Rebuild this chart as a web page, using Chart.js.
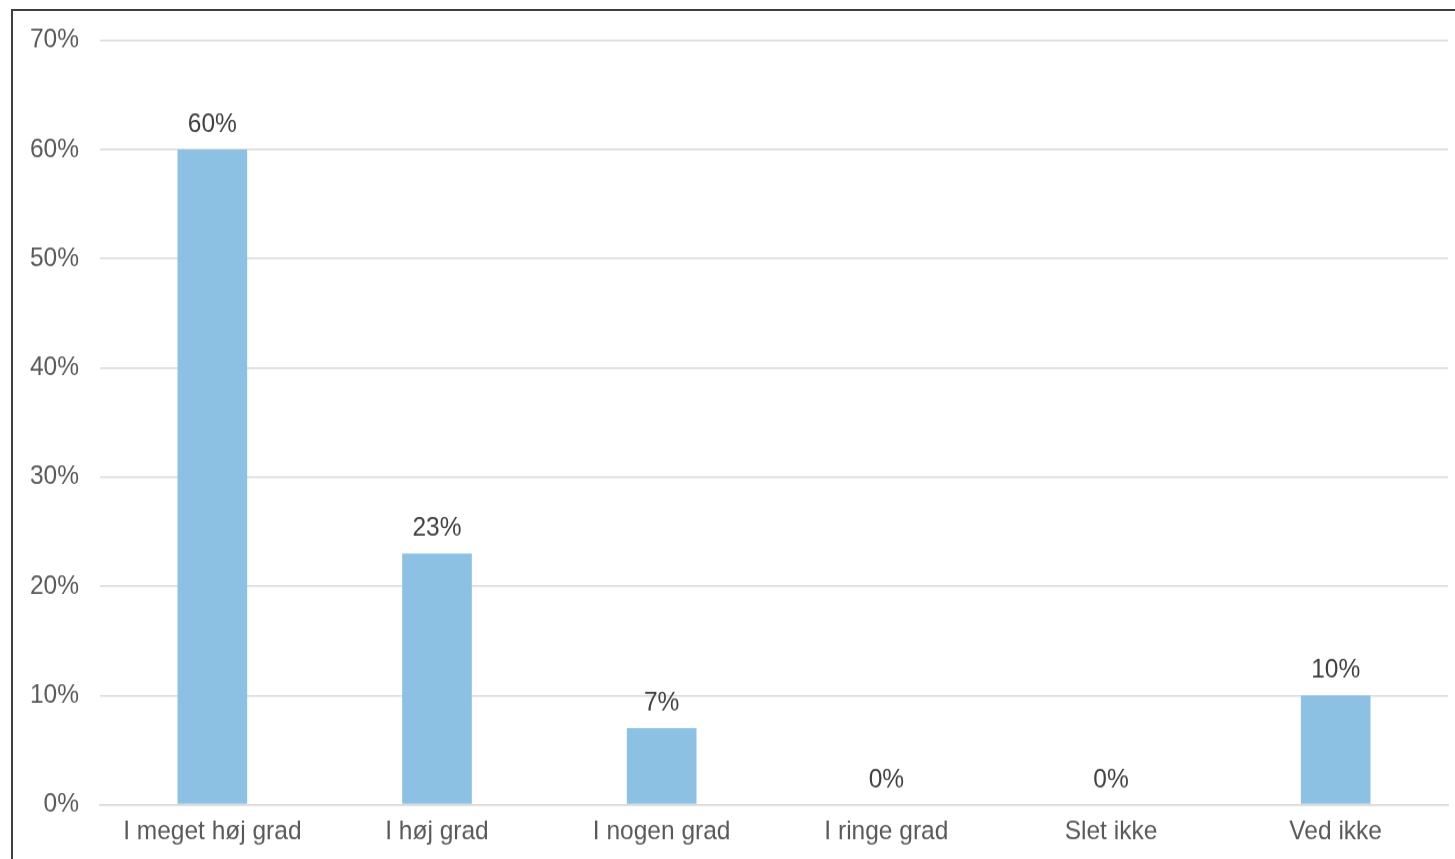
<!DOCTYPE html>
<html>
<head>
    <meta charset="utf-8">
    <title>I hvilken grad</title>
    <script src="https://cdn.jsdelivr.net/npm/chart.js"></script>
</head>
<style>
    body,
    html {
        margin: 0;
        background: #fff;
        overflow: hidden;
    }

    #frame {
        position: absolute;
        left: 11px;
        top: 9px;
        width: 1500px;
        height: 900px;
        border: 2px solid #3f3f3f;
    }

    #myChart {
        position: absolute;
        left: 0;
        top: 0;
        width: 1455px;
        height: 859px;
    }
</style>

<body>
    <div id="frame"></div>
    <canvas id="myChart" width="1455" height="781" style="width: 1455px; height: 859px;"></canvas>

    <script>
        const categories = ["I meget høj grad", "I høj grad", "I nogen grad", "I ringe grad", "Slet ikke", "Ved ikke"];
        const values = [60, 23, 7, 0, 0, 10];
        const yTicks = [0, 10, 20, 30, 40, 50, 60, 70];

        const font = "'Liberation Sans', Arial, sans-serif";

        // labels over each bar
        const valueLabels = {
            id: "valueLabels",
            afterDatasetsDraw(chart) {
                const ctx = chart.ctx;
                const meta = chart.getDatasetMeta(0);
                ctx.save();
                ctx.font = "24.5px " + font;
                ctx.fillStyle = "#404040";
                ctx.textAlign = "center";
                ctx.textBaseline = "bottom";
                meta.data.forEach((bar, i) => {
                    ctx.fillText(values[i] + "%", bar.x, bar.y - 10.5);
                });
                ctx.restore();
            }
        };

        const ctx = document.getElementById("myChart").getContext("2d");
        const myChart = new Chart(ctx, {
            type: "bar",
            data: {
                labels: categories,
                datasets: [{
                    data: values,
                    backgroundColor: "#8cc1e3",
                    barPercentage: 1,
                    categoryPercentage: 0.31,
                }],
            },
            options: {
                responsive: false,
                animation: false,
                layout: {
                    padding: { top: 36.6, right: 7, bottom: 0, left: 0 }
                },
                plugins: {
                    legend: { display: false },
                    tooltip: { enabled: false },
                },
                scales: {
                    x: {
                        grid: { display: false, drawTicks: false },
                        border: { display: true, color: "#d9d9d9", width: 1.5 },
                        ticks: {
                            padding: 10,
                            color: "#595959",
                            font: { family: font, size: 24.5 },
                            maxRotation: 0,
                        },
                    },
                    y: {
                        min: yTicks[0],
                        max: yTicks[yTicks.length - 1],
                        afterFit(axis) {
                            axis.width = 100;
                        },
                        afterBuildTicks(axis) {
                            axis.ticks = yTicks.map(v => ({ value: v }));
                        },
                        grid: { color: "#d9d9d9", lineWidth: 1.5, drawTicks: false },
                        border: { display: false },
                        ticks: {
                            padding: 21,
                            color: "#595959",
                            font: { family: font, size: 24.5 },
                            callback: v => v + "%",
                        },
                    },
                },
            },
            plugins: [valueLabels],
        });
    </script>
</body>

</html>
